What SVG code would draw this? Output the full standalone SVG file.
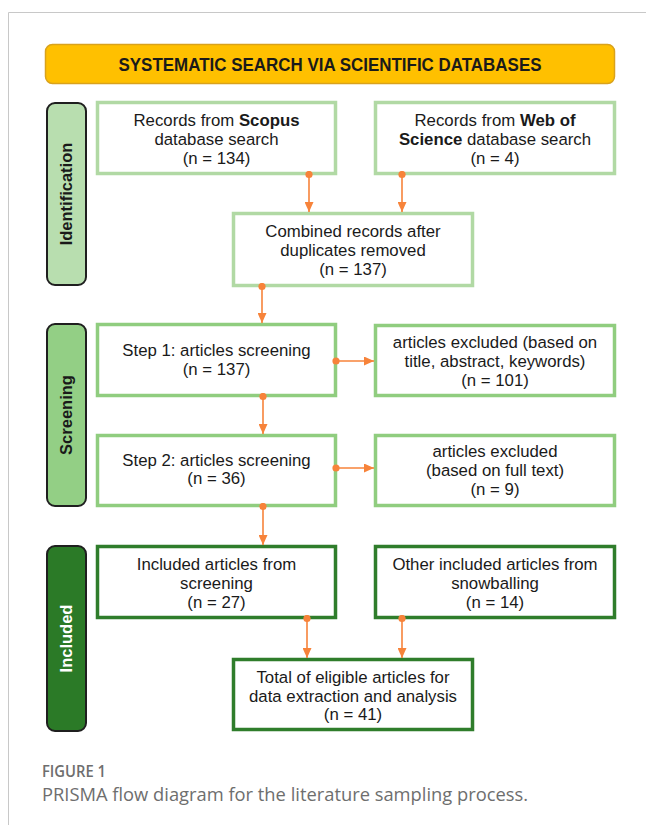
<svg xmlns="http://www.w3.org/2000/svg" width="646" height="825" viewBox="0 0 646 825">
<style>
  .t { font-family: "Liberation Sans", Arial, sans-serif; font-size: 16.8px; fill: #1a1a1a; text-anchor: middle; }
  .b { font-weight: bold; }
  .lab { font-family: "Liberation Sans", Arial, sans-serif; font-size: 16.5px; font-weight: bold; text-anchor: middle; }
  .boxI { fill: #ffffff; stroke: #b1d9a4; stroke-width: 3.5; }
  .boxS { fill: #ffffff; stroke: #90cd7f; stroke-width: 3.5; }
  .boxN { fill: #ffffff; stroke: #2f7d2b; stroke-width: 3.5; }
  .conn { stroke: #f7833a; stroke-width: 1.6; fill: none; }
  .cap { font-family: "Open Sans", "Noto Sans", sans-serif; fill: #6e6e6e; }
</style>
<defs>
  <marker id="head" viewBox="0 0 10 9" refX="10" refY="4.5" markerWidth="10" markerHeight="9" markerUnits="userSpaceOnUse" orient="auto">
    <path d="M0,0 L10,4.5 L0,9 Z" fill="#f7833a"/>
  </marker>
  <marker id="dot" viewBox="0 0 8 8" refX="4" refY="4" markerWidth="8" markerHeight="8" markerUnits="userSpaceOnUse" orient="auto">
    <circle cx="4" cy="4" r="3.6" fill="#f7833a"/>
  </marker>
</defs>

<rect x="0" y="0" width="646" height="825" fill="#ffffff"/>
<!-- frame -->
<line x1="8.5" y1="12.5" x2="646" y2="12.5" stroke="#c8c8c8" stroke-width="1"/>
<line x1="8.5" y1="12.5" x2="8.5" y2="825" stroke="#c8c8c8" stroke-width="1"/>

<g id="banner">
  <rect x="45.5" y="44.5" width="569" height="39" rx="7" fill="#ffc000" stroke="#d9a21c" stroke-width="1.5"/>
  <text class="t b" x="330" y="70.5" style="font-size:17.5px" textLength="423" lengthAdjust="spacingAndGlyphs">SYSTEMATIC SEARCH VIA SCIENTIFIC DATABASES</text>
</g>

<g id="label-identification">
  <rect x="47" y="103" width="39" height="182" rx="8" fill="#b8deaf" stroke="#1f1f1f" stroke-width="2"/>
  <text class="lab" transform="translate(72,194) rotate(-90)" fill="#1a1a1a">Identification</text>
</g>
<g id="label-screening">
  <rect x="47" y="324" width="39" height="182" rx="8" fill="#93cf85" stroke="#1f1f1f" stroke-width="2"/>
  <text class="lab" transform="translate(72,415) rotate(-90)" fill="#1a1a1a">Screening</text>
</g>
<g id="label-included">
  <rect x="47" y="546" width="39" height="185" rx="8" fill="#2b7a27" stroke="#1f1f1f" stroke-width="2"/>
  <text class="lab" transform="translate(72,638.5) rotate(-90)" fill="#ffffff">Included</text>
</g>

<g id="scopus">
  <rect class="boxI" x="97.5" y="102.5" width="238" height="71"/>
  <text class="t" x="216.5" y="126">Records from <tspan class="b">Scopus</tspan></text>
  <text class="t" x="216.5" y="145">database search</text>
  <text class="t" x="216.5" y="164">(n = 134)</text>
</g>
<g id="wos">
  <rect class="boxI" x="375.5" y="102.5" width="239" height="71"/>
  <text class="t" x="495" y="126">Records from <tspan class="b">Web of</tspan></text>
  <text class="t" x="495" y="145"><tspan class="b">Science</tspan> database search</text>
  <text class="t" x="495" y="164">(n = 4)</text>
</g>
<g id="combined">
  <rect class="boxI" x="233.5" y="213.5" width="239" height="72"/>
  <text class="t" x="353" y="237">Combined records after</text>
  <text class="t" x="353" y="256">duplicates removed</text>
  <text class="t" x="353" y="275">(n = 137)</text>
</g>

<g id="step1">
  <rect class="boxS" x="97.5" y="324.5" width="238" height="71"/>
  <text class="t" x="216.5" y="356">Step 1: articles screening</text>
  <text class="t" x="216.5" y="375">(n = 137)</text>
</g>
<g id="excluded1">
  <rect class="boxS" x="375.5" y="325.5" width="239" height="70"/>
  <text class="t" x="495" y="348">articles excluded (based on</text>
  <text class="t" x="495" y="367">title, abstract, keywords)</text>
  <text class="t" x="495" y="386">(n = 101)</text>
</g>
<g id="step2">
  <rect class="boxS" x="97.5" y="435.5" width="238" height="70"/>
  <text class="t" x="216.5" y="466">Step 2: articles screening</text>
  <text class="t" x="216.5" y="484">(n = 36)</text>
</g>
<g id="excluded2">
  <rect class="boxS" x="375.5" y="435.5" width="239" height="70"/>
  <text class="t" x="495" y="457">articles excluded</text>
  <text class="t" x="495" y="476">(based on full text)</text>
  <text class="t" x="495" y="495">(n = 9)</text>
</g>

<g id="included">
  <rect class="boxN" x="97.5" y="546.5" width="238" height="71"/>
  <text class="t" x="216.5" y="570">Included articles from</text>
  <text class="t" x="216.5" y="589">screening</text>
  <text class="t" x="216.5" y="608">(n = 27)</text>
</g>
<g id="snowballing">
  <rect class="boxN" x="375.5" y="546.5" width="239" height="71"/>
  <text class="t" x="495" y="570">Other included articles from</text>
  <text class="t" x="495" y="589">snowballing</text>
  <text class="t" x="495" y="608">(n = 14)</text>
</g>
<g id="total">
  <rect class="boxN" x="233.5" y="659.5" width="239" height="70"/>
  <text class="t" x="353" y="683">Total of eligible articles for</text>
  <text class="t" x="353" y="702">data extraction and analysis</text>
  <text class="t" x="353" y="720">(n = 41)</text>
</g>

<g id="connectors">
  <line class="conn" x1="309" y1="174.5" x2="309" y2="212" marker-start="url(#dot)" marker-end="url(#head)"/>
  <line class="conn" x1="402" y1="174.5" x2="402" y2="212" marker-start="url(#dot)" marker-end="url(#head)"/>
  <line class="conn" x1="262" y1="286.5" x2="262" y2="323" marker-start="url(#dot)" marker-end="url(#head)"/>
  <line class="conn" x1="263" y1="396.5" x2="263" y2="434" marker-start="url(#dot)" marker-end="url(#head)"/>
  <line class="conn" x1="336" y1="361" x2="374" y2="361" marker-start="url(#dot)" marker-end="url(#head)"/>
  <line class="conn" x1="336" y1="468" x2="374" y2="468" marker-start="url(#dot)" marker-end="url(#head)"/>
  <line class="conn" x1="263" y1="506.5" x2="263" y2="545" marker-start="url(#dot)" marker-end="url(#head)"/>
  <line class="conn" x1="307" y1="618.5" x2="307" y2="658" marker-start="url(#dot)" marker-end="url(#head)"/>
  <line class="conn" x1="402" y1="618.5" x2="402" y2="658" marker-start="url(#dot)" marker-end="url(#head)"/>
</g>

<g id="caption">
  <text class="cap" x="42" y="777" font-size="17" font-weight="600" textLength="64" lengthAdjust="spacingAndGlyphs">FIGURE 1</text>
  <text class="cap" x="42" y="801" font-size="17.5" textLength="486" lengthAdjust="spacingAndGlyphs">PRISMA flow diagram for the literature sampling process.</text>
</g>
</svg>
